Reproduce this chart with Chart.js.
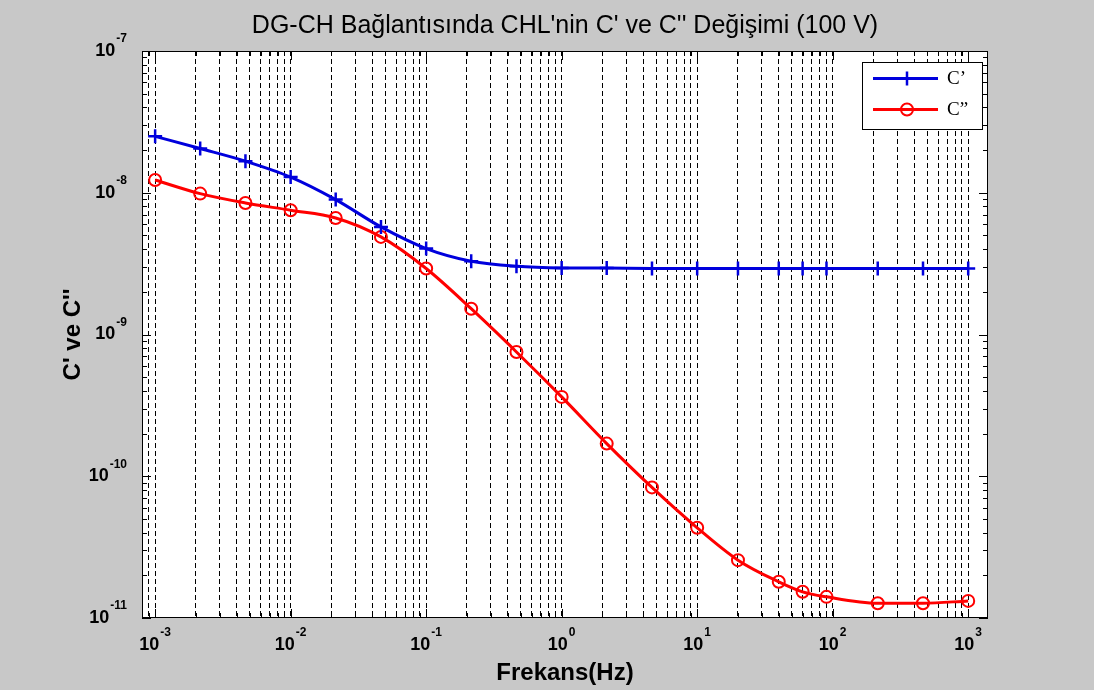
<!DOCTYPE html>
<html>
<head>
<meta charset="utf-8">
<script src="https://cdn.jsdelivr.net/npm/chart.js@4.4.3/dist/chart.umd.min.js"></script>
<style>
  html, body { margin: 0; padding: 0; background: #c8c8c8; }
  canvas { display: block; }
</style>
</head>
<body>
<canvas id="chart" width="1094" height="690"></canvas>
<script>
// frequencies (Hz) and the two measured curves
const freqHz = [0.001, 0.00215, 0.00464, 0.01, 0.0215, 0.0464, 0.1, 0.215, 0.464, 1,
                2.15, 4.64, 10, 20, 40, 60, 90, 215, 464, 1000];
const cPrime = [2.50e-8, 2.05e-8, 1.67e-8, 1.29e-8, 8.95e-9, 5.74e-9, 4.04e-9, 3.29e-9, 3.03e-9, 2.95e-9,
                2.94e-9, 2.92e-9, 2.92e-9, 2.92e-9, 2.92e-9, 2.92e-9, 2.92e-9, 2.92e-9, 2.92e-9, 2.92e-9];
const cDouble = [1.23e-8, 9.86e-9, 8.47e-9, 7.53e-9, 6.64e-9, 4.88e-9, 2.92e-9, 1.52e-9, 7.53e-10, 3.63e-10,
                 1.70e-10, 8.34e-11, 4.33e-11, 2.56e-11, 1.80e-11, 1.53e-11, 1.41e-11, 1.27e-11, 1.27e-11, 1.32e-11];

const seriesLabels = ['C\u2019', 'C\u201d'];
const xTickExponents = [-3, -2, -1, 0, 1, 2, 3];
const yTickExponents = [-11, -10, -9, -8, -7];

const X_MIN = 8e-4, X_MAX = 1.4e3;
const Y_MIN = 1e-11, Y_MAX = 1e-7;

// 1..9 x 10^n inside a range, for grid and minor ticks
function logSteps(min, max) {
    const out = [];
    for (let e = Math.floor(Math.log10(min)); e <= Math.ceil(Math.log10(max)); e++) {
        for (let m = 1; m <= 9; m++) {
            const v = +(m * Math.pow(10, e)).toPrecision(3);
            if (v >= min * 0.999 && v <= max * 1.001) out.push(v);
        }
    }
    return out;
}
const xGridValues = logSteps(X_MIN, X_MAX);
const yGridValues = logSteps(Y_MIN, Y_MAX);

const isMajor = v => Math.abs(Math.log10(v) - Math.round(Math.log10(v))) < 1e-6;

function drawPow(ctx, exp, x, y, align) {
    ctx.font = 'bold 18px "Liberation Sans", Arial, sans-serif';
    const base = '10';
    const wBase = ctx.measureText(base).width;
    ctx.font = 'bold 12px "Liberation Sans", Arial, sans-serif';
    const sup = String(exp);
    const wSup = ctx.measureText(sup).width;
    const total = wBase + wSup + 1;
    let start = x;
    if (align === 'center') start = x - total / 2;
    else if (align === 'right') start = x - total;
    ctx.textAlign = 'left';
    ctx.textBaseline = 'middle';
    ctx.fillStyle = '#000';
    ctx.font = 'bold 18px "Liberation Sans", Arial, sans-serif';
    ctx.fillText(base, start, y);
    ctx.font = 'bold 12px "Liberation Sans", Arial, sans-serif';
    ctx.fillText(sup, start + wBase + 1, y - 12);
}

const matlabAxes = {
    id: 'matlabAxes',
    beforeDraw(chart) {
        const { ctx, chartArea: a } = chart;
        ctx.save();
        ctx.fillStyle = '#ffffff';
        ctx.fillRect(a.left, a.top, a.right - a.left, a.bottom - a.top);
        ctx.restore();
    },
    afterDraw(chart) {
        const { ctx, chartArea: a, scales: { x, y } } = chart;
        ctx.save();
        ctx.strokeStyle = '#000';
        ctx.lineWidth = 1;
        ctx.setLineDash([]);

        // inward tick marks on all four sides
        ctx.beginPath();
        xGridValues.forEach(v => {
            const px = Math.round(x.getPixelForValue(v)) + 0.5;
            const len = isMajor(v) ? 9 : 5;
            ctx.moveTo(px, a.bottom); ctx.lineTo(px, a.bottom - len);
            ctx.moveTo(px, a.top); ctx.lineTo(px, a.top + len);
        });
        yGridValues.forEach(v => {
            const py = Math.round(y.getPixelForValue(v)) + 0.5;
            const len = isMajor(v) ? 9 : 5;
            ctx.moveTo(a.left, py); ctx.lineTo(a.left + len, py);
            ctx.moveTo(a.right, py); ctx.lineTo(a.right - len, py);
        });
        ctx.stroke();

        // frame
        ctx.strokeRect(Math.round(a.left) + 0.5, Math.round(a.top) + 0.5,
                       Math.round(a.right - a.left) - 1, Math.round(a.bottom - a.top) - 1);

        // tick labels as 10^n
        xTickExponents.forEach(e => {
            drawPow(ctx, e, x.getPixelForValue(Math.pow(10, e)), a.bottom + 27, 'center');
        });
        yTickExponents.forEach(e => {
            drawPow(ctx, e, a.left - 15, y.getPixelForValue(Math.pow(10, e)), 'right');
        });

        // legend box
        const bw = 120, bh = 67;
        const bx = a.right - 6 - bw, by = a.top + 11;
        ctx.fillStyle = '#ffffff';
        ctx.fillRect(bx, by, bw, bh);
        ctx.strokeStyle = '#000';
        ctx.lineWidth = 1;
        ctx.strokeRect(bx + 0.5, by + 0.5, bw, bh);
        chart.data.datasets.forEach((ds, i) => {
            const ly = by + 16.5 + i * 31;
            ctx.strokeStyle = ds.borderColor;
            ctx.lineWidth = ds.borderWidth;
            ctx.beginPath();
            ctx.moveTo(bx + 11, ly);
            ctx.lineTo(bx + 76, ly);
            ctx.stroke();
            ctx.lineWidth = ds.pointBorderWidth;
            ctx.fillStyle = 'rgba(0,0,0,0)';
            Chart.helpers.drawPoint(ctx, {
                pointStyle: ds.pointStyle, radius: ds.pointRadius, rotation: 0,
                borderWidth: ds.pointBorderWidth
            }, bx + 45, ly);
            ctx.fillStyle = '#000';
            ctx.font = '19px "Liberation Serif", "Times New Roman", serif';
            ctx.textAlign = 'left';
            ctx.textBaseline = 'middle';
            ctx.fillText(ds.label, bx + 85, ly + 1);
        });
        ctx.restore();
    }
};

const ctx = document.getElementById('chart').getContext('2d');
new Chart(ctx, {
    type: 'line',
    data: {
        datasets: [
            {
                label: seriesLabels[0],
                data: freqHz.map((f, i) => ({ x: f, y: cPrime[i] })),
                borderColor: '#0000dd',
                backgroundColor: 'rgba(0,0,0,0)',
                borderWidth: 3,
                pointStyle: 'cross',
                pointRadius: 7,
                pointBorderWidth: 2.5,
                pointBorderColor: '#0000dd',
                cubicInterpolationMode: 'monotone'
            },
            {
                label: seriesLabels[1],
                data: freqHz.map((f, i) => ({ x: f, y: cDouble[i] })),
                borderColor: '#ff0000',
                backgroundColor: 'rgba(0,0,0,0)',
                borderWidth: 3,
                pointStyle: 'circle',
                pointRadius: 6,
                pointBorderWidth: 2,
                pointBorderColor: '#ff0000',
                pointBackgroundColor: 'rgba(0,0,0,0)',
                cubicInterpolationMode: 'monotone'
            }
        ]
    },
    options: {
        responsive: false,
        animation: false,
        devicePixelRatio: 1,
        layout: { padding: { left: 0, right: 106, top: 0, bottom: 0 } },
        plugins: {
            legend: { display: false },
            tooltip: { enabled: false },
            title: {
                display: true,
                fullSize: false,
                text: "DG-CH Bağlantısında CHL'nin C' ve C'' Değişimi (100 V)",
                color: '#000',
                font: { family: '"Liberation Sans", Arial, sans-serif', size: 25, weight: 'normal' },
                padding: { top: 11, bottom: 10 }
            }
        },
        scales: {
            x: {
                type: 'logarithmic',
                min: X_MIN,
                max: X_MAX,
                afterBuildTicks: scale => { scale.ticks = xGridValues.map(v => ({ value: v })); },
                afterFit: scale => { scale.height = 72; },
                ticks: { display: false },
                grid: { display: true, drawOnChartArea: true, drawTicks: false, color: '#000', lineWidth: 1 },
                border: { display: false, dash: [5, 3] },
                title: {
                    display: true,
                    text: 'Frekans(Hz)',
                    color: '#000',
                    font: { family: '"Liberation Sans", Arial, sans-serif', size: 24, weight: 'bold' },
                    padding: { top: 0, bottom: 2.6 }
                }
            },
            y: {
                type: 'logarithmic',
                min: Y_MIN,
                max: Y_MAX,
                afterFit: scale => { scale.width = 142; },
                ticks: { display: false },
                grid: { display: false },
                border: { display: false },
                title: {
                    display: true,
                    text: "C' ve C''",
                    color: '#000',
                    font: { family: '"Liberation Sans", Arial, sans-serif', size: 24, weight: 'bold' },
                    padding: { top: 59, bottom: 0 }
                }
            }
        }
    },
    plugins: [matlabAxes]
});
</script>
</body>
</html>
